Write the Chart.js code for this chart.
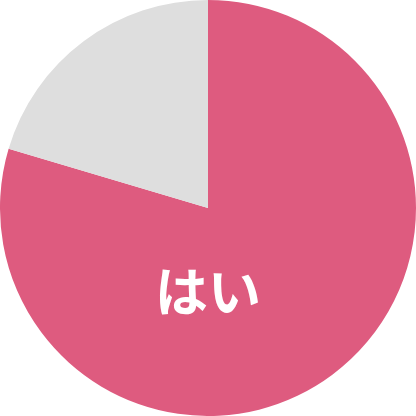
<!DOCTYPE html>
<html>
<head>
<meta charset="utf-8">
<script src="https://cdn.jsdelivr.net/npm/chart.js@4"></script>
<style>
html,body{margin:0;padding:0;background:#fff;}
#wrap{width:416px;height:416px;}
</style>
</head>
<body>
<div id="wrap"><canvas id="c" width="416" height="416"></canvas></div>
<script>
const categories = ["はい", "いいえ"];
const values = [79.6, 20.4];
const colors = ["#DE5B7F", "#DEDEDE"];
const labelText = categories[0];

const labelPlugin = {
  id: 'labelPlugin',
  afterDatasetsDraw(chart) {
    const arc = chart.getDatasetMeta(0).data[0];
    const ctx = chart.ctx;
    ctx.save();
    ctx.fillStyle = '#FFFFFF';
    ctx.font = 'bold 53px "Noto Sans CJK JP"';
    ctx.textAlign = 'center';
    ctx.textBaseline = 'middle';
    ctx.fillText(labelText, arc.x, arc.y + arc.outerRadius * 0.405);
    ctx.restore();
  }
};

new Chart(document.getElementById('c'), {
  type: 'pie',
  data: {
    labels: categories,
    datasets: [{
      data: values,
      backgroundColor: colors,
      borderWidth: 0
    }]
  },
  options: {
    responsive: false,
    animation: false,
    layout: { padding: 0 },
    plugins: {
      legend: { display: false },
      tooltip: { enabled: false }
    }
  },
  plugins: [labelPlugin]
});
</script>
</body>
</html>
